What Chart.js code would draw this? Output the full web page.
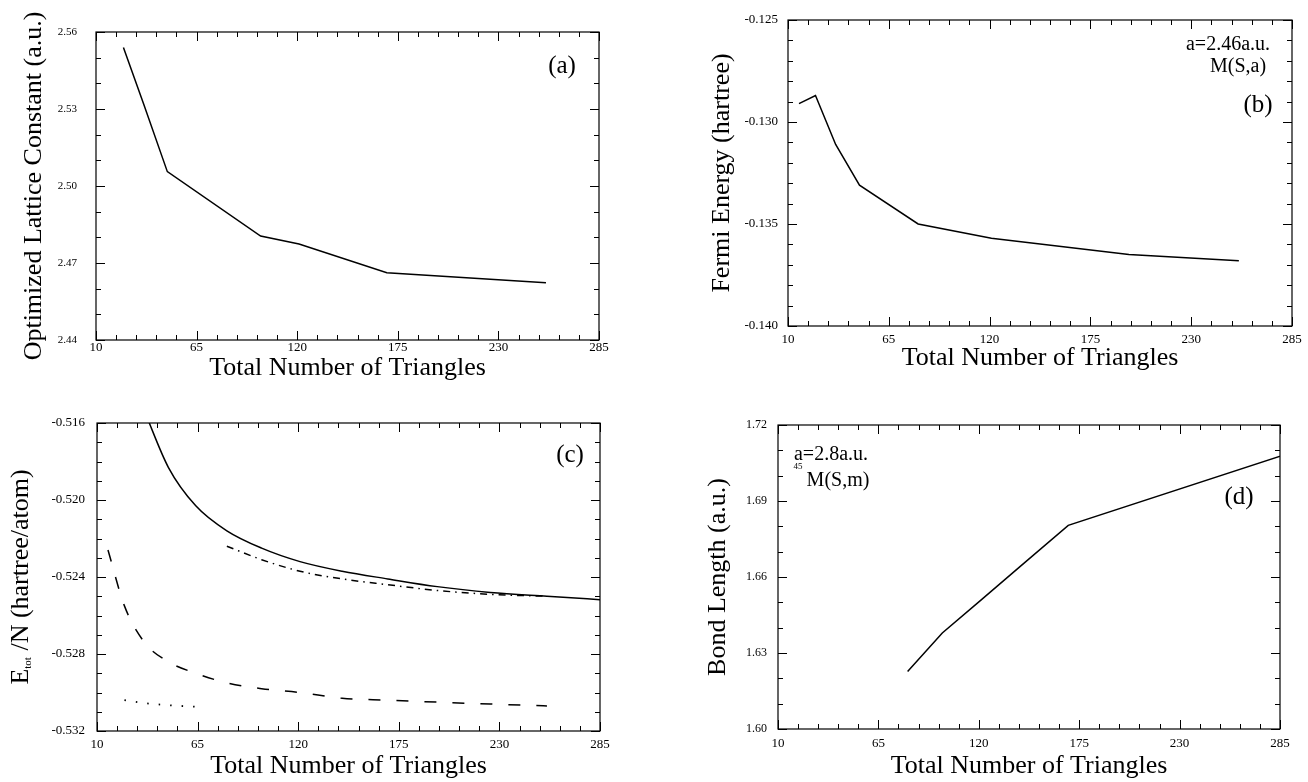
<!DOCTYPE html>
<html>
<head>
<meta charset="utf-8">
<script src="https://cdn.jsdelivr.net/npm/chart.js@4.4.1/dist/chart.umd.min.js"></script>
<style>
html,body{margin:0;padding:0;background:#fff;}
#wrap{position:relative;width:1308px;height:782px;overflow:hidden;background:#fff;}
canvas{position:absolute;}
</style>
</head>
<body>
<div id="wrap">
<canvas id="pa" width="650" height="392" style="left:0px;top:0px"></canvas>
<canvas id="pb" width="658" height="392" style="left:650px;top:0px"></canvas>
<canvas id="pc" width="650" height="390" style="left:0px;top:392px"></canvas>
<canvas id="pd" width="658" height="390" style="left:650px;top:392px"></canvas>
</div>
<script>
const FONT = "'Liberation Serif','Times New Roman',serif";

// shared x axis
const xTicks = [10, 65, 120, 175, 230, 285];
const xTickLabels = ['10', '65', '120', '175', '230', '285'];
const xTitle = 'Total Number of Triangles';

// (a) optimized lattice constant
const aN = [25, 36, 49, 100, 121, 169, 256];
const aLattice = [2.554, 2.532, 2.5056, 2.4805, 2.4774, 2.4662, 2.4623];
const aYTicks = [2.44, 2.47, 2.50, 2.53, 2.56];
const aYLabels = ['2.44', '2.47', '2.50', '2.53', '2.56'];

// (b) Fermi energy
const bN = [16, 25, 36, 49, 81, 121, 196, 256];
const bFermi = [-0.1291, -0.1287, -0.1311, -0.1331, -0.1350, -0.1357, -0.1365, -0.1368];
const bYTicks = [-0.140, -0.135, -0.130, -0.125];
const bYLabels = ['-0.140', '-0.135', '-0.130', '-0.125'];

// (c) total energy per atom
const cSolidN = [36, 49, 64, 81, 100, 121, 144, 169, 196, 225, 256, 289];
const cSolidE = [-0.5154, -0.5183, -0.5203, -0.5216, -0.5225, -0.5232, -0.5237, -0.5241, -0.5245, -0.5248, -0.5250, -0.5252];
const cDashDotN = [81, 100, 121, 144, 169, 196, 225, 256];
const cDashDotE = [-0.5224, -0.5231, -0.5237, -0.5241, -0.5244, -0.5247, -0.5249, -0.5250];
const cDashN = [16, 25, 36, 49, 64, 81, 100, 121, 144, 169, 196, 225, 256];
const cDashE = [-0.5226, -0.5255, -0.5274, -0.5284, -0.5290, -0.5295, -0.5298, -0.5300, -0.5303, -0.5304, -0.5305, -0.5306, -0.5307];
const cDotN = [25, 36, 49, 64];
const cDotE = [-0.5304, -0.53055, -0.53066, -0.53074];
const cYTicks = [-0.532, -0.528, -0.524, -0.520, -0.516];
const cYLabels = ['-0.532', '-0.528', '-0.524', '-0.520', '-0.516'];

// (d) bond length
const dN = [81, 100, 121, 144, 169, 289];
const dBond = [1.6227, 1.6379, 1.6508, 1.6650, 1.6804, 1.7086];
const dYTicks = [1.60, 1.63, 1.66, 1.69, 1.72];
const dYLabels = ['1.60', '1.63', '1.66', '1.69', '1.72'];

function pts(xs, ys) { return xs.map((x, i) => ({ x: x, y: ys[i] })); }

const framePlugin = {
  id: 'frame',
  afterDatasetsDraw(chart) {
    const o = chart.options.plugins.frame;
    if (!o) return;
    const ctx = chart.ctx;
    const { left, top, right, bottom } = chart.chartArea;
    const xs = chart.scales.x, ys = chart.scales.y;
    ctx.save();
    ctx.strokeStyle = '#000';
    ctx.lineWidth = 1.2;
    ctx.strokeRect(left, top, right - left, bottom - top);
    const MAJ = 9, MIN = 5;
    ctx.lineWidth = 1;
    ctx.beginPath();
    for (let i = 0; i < xTicks.length; i++) {
      const p = Math.round(xs.getPixelForValue(xTicks[i])) + 0.5;
      ctx.moveTo(p, bottom); ctx.lineTo(p, bottom - MAJ);
      ctx.moveTo(p, top); ctx.lineTo(p, top + MAJ);
      if (i < xTicks.length - 1) {
        const st = (xTicks[i + 1] - xTicks[i]) / o.xSub;
        for (let k = 1; k < o.xSub; k++) {
          const q = Math.round(xs.getPixelForValue(xTicks[i] + k * st)) + 0.5;
          ctx.moveTo(q, bottom); ctx.lineTo(q, bottom - MIN);
          ctx.moveTo(q, top); ctx.lineTo(q, top + MIN);
        }
      }
    }
    const yt = o.yTicks;
    for (let i = 0; i < yt.length; i++) {
      const p = Math.round(ys.getPixelForValue(yt[i])) + 0.5;
      ctx.moveTo(left, p); ctx.lineTo(left + MAJ, p);
      ctx.moveTo(right, p); ctx.lineTo(right - MAJ, p);
      if (i < yt.length - 1) {
        const st = (yt[i + 1] - yt[i]) / o.ySub;
        for (let k = 1; k < o.ySub; k++) {
          const q = Math.round(ys.getPixelForValue(yt[i] + k * st)) + 0.5;
          ctx.moveTo(left, q); ctx.lineTo(left + MIN, q);
          ctx.moveTo(right, q); ctx.lineTo(right - MIN, q);
        }
      }
    }
    ctx.stroke();
    ctx.fillStyle = '#000';
    ctx.textAlign = 'center';
    ctx.textBaseline = 'middle';
    (o.notes || []).forEach(n => {
      ctx.font = n.size + 'px ' + FONT;
      ctx.fillText(n.text, n.x, n.y);
    });
    if (o.eTitle) {
      const t = o.eTitle;
      ctx.translate(t.x, t.y);
      ctx.rotate(-Math.PI / 2);
      ctx.textAlign = 'left';
      ctx.font = '26px ' + FONT;
      const wE = ctx.measureText('E').width;
      const rest = ' /N (hartree/atom)';
      const wR = ctx.measureText(rest).width;
      ctx.font = '11px ' + FONT;
      const wS = ctx.measureText('tot').width;
      const total = wE + wS + wR;
      let x0 = -total / 2;
      ctx.font = '26px ' + FONT;
      ctx.fillText('E', x0, 0);
      ctx.font = '11px ' + FONT;
      ctx.fillText('tot', x0 + wE, 7);
      ctx.font = '26px ' + FONT;
      ctx.fillText(rest, x0 + wE + wS, 0);
    }
    ctx.restore();
  }
};

function makePanel(id, s) {
  const ctxEl = document.getElementById(id);
  const W = ctxEl.width, H = ctxEl.height;
  return new Chart(ctxEl, {
    type: 'line',
    data: { datasets: s.datasets },
    plugins: [framePlugin],
    options: {
      responsive: false,
      animation: false,
      devicePixelRatio: 1,
      layout: { padding: { left: 0, top: s.T, right: W - s.R, bottom: 0 } },
      plugins: {
        legend: { display: false },
        tooltip: { enabled: false },
        frame: { xSub: 5, ySub: s.ySub, yTicks: s.yTicks, notes: s.notes, eTitle: s.eTitle }
      },
      elements: { point: { radius: 0 } },
      scales: {
        x: {
          type: 'linear', position: 'bottom', min: 10, max: 285,
          afterBuildTicks: sc => { sc.ticks = xTicks.map(v => ({ value: v })); },
          afterFit: sc => { sc.height = H - s.B; },
          grid: { display: false, drawTicks: false },
          border: { display: false },
          ticks: {
            autoSkip: false, maxRotation: 0, padding: s.xTickPad, color: '#000',
            font: { family: FONT, size: 13 },
            callback: v => xTickLabels[xTicks.indexOf(v)]
          },
          title: {
            display: true, text: xTitle, color: '#000',
            font: { family: FONT, size: 26 },
            padding: { top: 0, bottom: s.xTitlePad }
          }
        },
        y: {
          type: 'linear', position: 'left', min: s.yTicks[0], max: s.yTicks[s.yTicks.length - 1],
          afterBuildTicks: sc => { sc.ticks = s.yTicks.map(v => ({ value: v })); },
          afterFit: sc => { sc.width = s.L; },
          grid: { display: false, drawTicks: false },
          border: { display: false },
          ticks: {
            padding: s.yTickPad, color: '#000',
            font: { family: FONT, size: s.yTickSize },
            callback: v => s.yLabels[s.yTicks.indexOf(v)]
          },
          title: {
            display: !!s.yTitle, text: s.yTitle || '', color: '#000',
            font: { family: FONT, size: 26 },
            padding: { top: s.yTitlePad || 0, bottom: 0 }
          }
        }
      }
    }
  });
}

const solid = { borderColor: '#000', borderWidth: 1.5, pointRadius: 0, fill: false };

makePanel('pa', {
  L: 96, T: 32, R: 599, B: 340,
  datasets: [Object.assign({ data: pts(aN, aLattice), tension: 0 }, solid)],
  yTicks: aYTicks, yLabels: aYLabels, ySub: 3, yTickSize: 11, yTickPad: 19, xTickPad: 0,
  xTitlePad: 8, yTitle: 'Optimized Lattice Constant (a.u.)', yTitlePad: 19,
  notes: [{ text: '(a)', x: 562, y: 66, size: 25 }]
});

makePanel('pb', {
  L: 138, T: 20, R: 642, B: 326,
  datasets: [Object.assign({ data: pts(bN, bFermi), tension: 0 }, solid)],
  yTicks: bYTicks, yLabels: bYLabels, ySub: 5, yTickSize: 13, yTickPad: 10, xTickPad: 6,
  xTitlePad: 18, yTitle: 'Fermi Energy (hartree)', yTitlePad: 57,
  notes: [
    { text: 'a=2.46a.u.', x: 578, y: 45, size: 20 },
    { text: 'M(S,a)', x: 588, y: 67, size: 20 },
    { text: '(b)', x: 608, y: 105, size: 25 }
  ]
});

makePanel('pc', {
  L: 97, T: 31, R: 600, B: 339,
  datasets: [
    Object.assign({ data: pts(cSolidN, cSolidE), cubicInterpolationMode: 'monotone' }, solid),
    Object.assign({ data: pts(cDashDotN, cDashDotE), cubicInterpolationMode: 'monotone' }, solid, { borderDash: [7, 5, 1.5, 5] }),
    Object.assign({ data: pts(cDashN, cDashE), cubicInterpolationMode: 'monotone' }, solid, { borderDash: [12, 16] }),
    Object.assign({ data: pts(cDotN, cDotE), cubicInterpolationMode: 'monotone' }, solid, { borderDash: [1.5, 10], borderWidth: 1.8 })
  ],
  yTicks: cYTicks, yLabels: cYLabels, ySub: 4, yTickSize: 13, yTickPad: 12, xTickPad: 6,
  xTitlePad: 0, yTitle: null,
  eTitle: { x: 21, y: 185 },
  notes: [{ text: '(c)', x: 570, y: 63, size: 25 }]
});

makePanel('pd', {
  L: 128, T: 33, R: 630, B: 337,
  datasets: [Object.assign({ data: pts(dN, dBond), tension: 0 }, solid)],
  yTicks: dYTicks, yLabels: dYLabels, ySub: 3, yTickSize: 12, yTickPad: 11, xTickPad: 7,
  xTitlePad: 0, yTitle: 'Bond Length (a.u.)', yTitlePad: 53,
  notes: [
    { text: 'a=2.8a.u.', x: 181, y: 63, size: 20 },
    { text: '45', x: 148, y: 75, size: 9 },
    { text: 'M(S,m)', x: 188, y: 89, size: 20 },
    { text: '(d)', x: 589, y: 105, size: 25 }
  ]
});
</script>
</body>
</html>
